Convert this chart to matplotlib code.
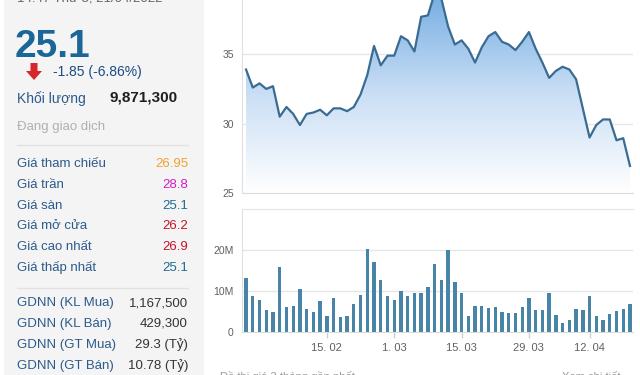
import numpy as np
import matplotlib
matplotlib.use("Agg")
import matplotlib.pyplot as plt
from matplotlib.patches import Polygon, Rectangle
from matplotlib.colors import LinearSegmentedColormap

plt.rcParams['font.family'] = ['Liberation Sans', 'DejaVu Sans']

# daily close, ~3 months of sessions
price = [33.9, 32.6, 32.9, 32.5, 32.7, 30.5, 31.2, 30.7, 29.9, 30.7,
         30.8, 31.0, 30.6, 31.1, 31.1, 30.9, 31.2, 32.1, 33.5, 35.6,
         34.2, 34.9, 34.9, 36.3, 36.0, 35.2, 37.7, 37.8, 39.4, 39.0,
         37.0, 35.7, 36.0, 35.4, 34.4, 35.5, 36.3, 36.6, 35.9, 35.7,
         35.3, 35.9, 36.6, 35.4, 34.4, 33.3, 33.8, 34.1, 33.9, 33.2,
         31.1, 29.0, 29.9, 30.3, 30.3, 28.8, 28.95, 26.95]
# volume, millions of shares
volume = [13.1, 8.7, 7.7, 5.3, 4.8, 15.9, 6.0, 6.3, 10.4, 5.6,
          4.8, 7.5, 3.8, 8.4, 3.6, 3.8, 6.8, 9.1, 20.3, 17.1,
          12.6, 8.9, 7.7, 9.9, 8.9, 9.6, 9.4, 11.0, 16.7, 12.6,
          20.0, 12.3, 9.6, 3.8, 6.3, 6.3, 5.8, 6.0, 4.8, 4.6,
          4.6, 6.0, 8.2, 5.3, 5.3, 9.6, 4.1, 2.2, 2.9, 5.6,
          5.3, 8.9, 3.8, 2.9, 4.3, 5.1, 5.6, 6.9]
tick_idx = [12, 22, 32, 42, 51]
tick_lbl = ['15. 02', '1. 03', '15. 03', '29. 03', '12. 04']

last_price = '25.1'
change_txt = '-1.85 (-6.86%)'
vol_label = 'Khối lượng'
vol_value = '9,871,300'
status = 'Đang giao dịch'
info_labels = ['Giá tham chiếu', 'Giá trần', 'Giá sàn', 'Giá mở cửa',
               'Giá cao nhất', 'Giá thấp nhất']
info_values = ['26.95', '28.8', '25.1', '26.2', '26.9', '25.1']
info_colors = ['#f0a12e', '#d41bc8', '#1f6b91', '#c4132b', '#c4132b', '#1f6b91']
gdnn_labels = ['GDNN (KL Mua)', 'GDNN (KL Bán)', 'GDNN (GT Mua)', 'GDNN (GT Bán)']
gdnn_values = ['1,167,500', '429,300', '29.3 (Tỷ)', '10.78 (Tỷ)']

W, H = 640, 375
fig = plt.figure(figsize=(6.4, 3.75), dpi=100)
fig.patch.set_facecolor('white')

# ---- left info panel (pixel coordinates) ----
pan = fig.add_axes([0, 0, 1, 1], zorder=0)
pan.set_xlim(0, W)
pan.set_ylim(H, 0)
pan.axis('off')
pan.add_patch(Rectangle((4, -5), 200, H + 10, facecolor='#f4f4f4', edgecolor='none'))

lab_c = '#2c5a8c'
# header line is cut by the top edge in the screenshot
pan.text(17, 1.5, '14:47 Thứ 5, 21/04/2022', fontsize=9.5, color='#666666', va='baseline')
pan.text(15, 57, last_price, fontsize=28, fontweight='bold', color='#1b6698', va='baseline')
pan.add_patch(Polygon([(30.5, 63), (37.5, 63), (37.5, 71), (42, 71), (34, 80),
                       (26, 71), (30.5, 71)], closed=True, facecolor='#d6262c',
                      edgecolor='none'))
pan.text(53, 72, change_txt, fontsize=10, color='#1d4a82', va='center')
pan.text(17, 99, vol_label, fontsize=10, color=lab_c, va='center')
pan.text(110, 98, vol_value, fontsize=11, fontweight='bold', color='#1e1e1e', va='center')
pan.text(17, 127, status, fontsize=9.5, color='#b0b0b0', va='center')
pan.plot([17, 188], [145, 145], color='#e2e2e2', lw=1)
for i, (l, v, c) in enumerate(zip(info_labels, info_values, info_colors)):
    yy = 164 + i * 20.8
    pan.text(17, yy, l, fontsize=9.5, color=lab_c, va='center')
    pan.text(188, yy, v, fontsize=9.5, color=c, va='center', ha='right')
pan.plot([17, 188], [288, 288], color='#e2e2e2', lw=1)
for i, (l, v) in enumerate(zip(gdnn_labels, gdnn_values)):
    yy = 303 + i * 21
    pan.text(17, yy, l, fontsize=9.5, color=lab_c, va='center')
    pan.text(188, yy, v, fontsize=9.5, color='#333333', va='center', ha='right')
# footer line is cut by the bottom edge in the screenshot
pan.text(220, 371.5, 'Đồ thị giá 3 tháng gần nhất', fontsize=8, color='#999999', va='top')
pan.text(620, 371.5, 'Xem chi tiết', fontsize=8, color='#999999', va='top', ha='right')

x = np.arange(len(price))
xlim = (-0.6, len(price) - 1 + 0.45)
grid_c = '#e6e6e6'

# ---- price chart ----
axp = fig.add_axes([242 / W, (H - 193) / H, (633 - 242) / W, 193 / H], zorder=1)
fill = axp.fill_between(x, price, 25, facecolor='none', edgecolor='none')
grad = np.linspace(0, 1, 256).reshape(-1, 1)
cmap = LinearSegmentedColormap.from_list('g', ['#ffffff', '#c9def5', '#74ace2'])
im = axp.imshow(grad, extent=[xlim[0], xlim[1], 25, 39.5], origin='lower',
                aspect='auto', cmap=cmap, zorder=1)
im.set_clip_path(fill.get_paths()[0], transform=axp.transData)
axp.plot(x, price, color='#3a6c93', lw=1.6, zorder=3, solid_joinstyle='round')
axp.set_xlim(*xlim)
axp.set_ylim(25, 38.91)
axp.set_yticks([25, 30, 35])
axp.set_xticks([])
axp.grid(axis='y', color=grid_c, lw=1)
axp.set_axisbelow(True)
for s in ['top', 'right']:
    axp.spines[s].set_visible(False)
axp.spines['left'].set_color('#e0e0e0')
axp.spines['bottom'].set_color('#dcdcdc')
axp.tick_params(axis='y', length=0, pad=6, labelsize=7.5, labelcolor='#606060')

# ---- volume chart ----
axv = fig.add_axes([242 / W, (H - 332) / H, (633 - 242) / W, (332 - 209) / H], zorder=1)
axv.bar(x, volume, width=0.5, color='#4884a8', zorder=2)
axv.set_xlim(*xlim)
axv.set_ylim(0, 30)
axv.set_yticks([0, 10, 20])
axv.set_yticklabels(['0', '10M', '20M'])
axv.set_xticks(tick_idx)
axv.set_xticklabels(tick_lbl)
axv.grid(axis='y', color=grid_c, lw=1)
axv.set_axisbelow(True)
axv.spines['right'].set_visible(False)
axv.spines['top'].set_color(grid_c)
axv.spines['left'].set_color('#e0e0e0')
axv.spines['bottom'].set_color('#dcdcdc')
axv.tick_params(axis='y', length=0, pad=6, labelsize=7.5, labelcolor='#606060')
axv.tick_params(axis='x', length=4, width=1, color='#d0d0d0', pad=4,
                labelsize=8, labelcolor='#606060')

fig.savefig('out.png', dpi=100)
